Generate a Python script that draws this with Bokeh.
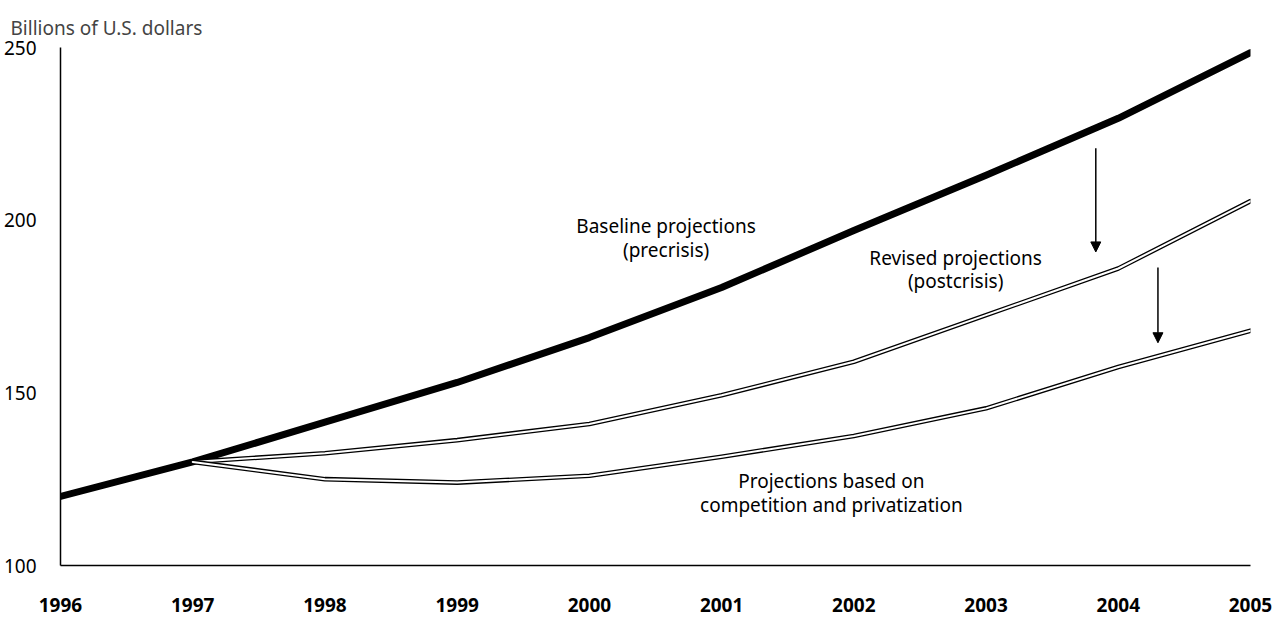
from bokeh.plotting import figure
from bokeh.models import Label, Arrow, NormalHead, FixedTicker, Range1d
from bokeh.embed import file_html
from bokeh.resources import INLINE

# ---- data ----
years = [1996, 1997, 1998, 1999, 2000, 2001, 2002, 2003, 2004, 2005]
baseline = [120, 130, 141.5, 153, 166, 180.5, 197, 213, 229.5, 248.5]
rev_years = [1997, 1998, 1999, 2000, 2001, 2002, 2003, 2004, 2005]
revised = [130, 132.5, 136.3, 141, 149.3, 159, 172.5, 186, 205.5]
competition = [130, 125, 124, 126, 131.5, 137.5, 145.5, 157.5, 168]
y_ticks = [100, 150, 200, 250]
x_ticks = years

FONT = "Noto Sans"

p = figure(width=1278, height=618, output_backend="svg", toolbar_location=None,
           x_range=Range1d(1996, 2005), y_range=Range1d(100, 250),
           min_border_left=60, min_border_right=28, min_border_top=47, min_border_bottom=53,
           title="Billions of U.S. dollars")
p.outline_line_color = None
p.grid.visible = False
p.background_fill_color = "white"
p.title.text_font = FONT
p.title.text_font_size = "19px"
p.title.text_font_style = "normal"
p.title.align = "left"
p.title.vertical_align = "top"
p.title.offset = -50
p.title.standoff = 10

# axes
p.xaxis.ticker = FixedTicker(ticks=x_ticks)
p.yaxis.ticker = FixedTicker(ticks=y_ticks)
for ax in (p.xaxis[0], p.yaxis[0]):
    ax.major_tick_line_color = None
    ax.minor_tick_line_color = None
    ax.axis_line_color = "black"
    ax.axis_line_width = 1.5
    ax.major_label_text_font = FONT
    ax.major_label_text_color = "black"
    ax.major_label_text_font_size = "19px"
p.xaxis.major_label_text_font_style = "bold"
p.xaxis.major_label_standoff = 26
p.yaxis.major_label_standoff = 18

# lines
p.line(years, baseline, line_color="black", line_width=7, line_cap="round", line_join="round")
for ys in (revised, competition):
    p.line(rev_years, ys, line_color="black", line_width=4.6, line_cap="round", line_join="round")
    p.line(rev_years, ys, line_color="white", line_width=2, line_cap="round", line_join="round")

# arrows
arrows = [((2003.83, 220.8), (2003.83, 190.8)), ((2004.30, 186.3), (2004.30, 164.5))]
for (x0, y0), (x1, y1) in arrows:
    p.add_layout(Arrow(x_start=x0, y_start=y0, x_end=x1, y_end=y1, line_width=1.5,
                       end=NormalHead(size=10, fill_color="black", line_color="black")))

# annotations
def lab(x, y, t, align="center"):
    p.add_layout(Label(x=x, y=y, text=t, text_align=align, text_baseline="middle",
                       text_font=FONT, text_font_size="19px", text_color="black"))

lab(2000.58, 198.2, "Baseline projections")
lab(2000.58, 191.4, "(precrisis)")
lab(2002.77, 189.0, "Revised projections")
lab(2002.77, 182.5, "(postcrisis)")
lab(2001.83, 124.6, "Projections based on")
lab(2001.83, 117.4, "competition and privatization")

open("out.html", "w").write(file_html(p, INLINE))
